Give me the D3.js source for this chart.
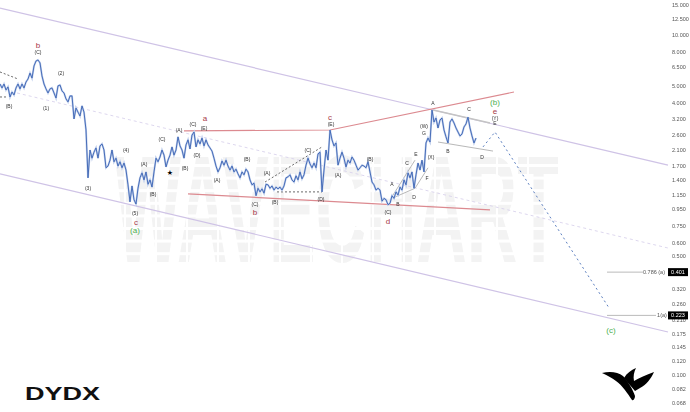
<!DOCTYPE html>
<html>
<head>
<meta charset="utf-8">
<title>DYDX</title>
<script src="https://cdn.jsdelivr.net/npm/d3@7"></script>
<style>
    html, body { margin: 0; padding: 0; background: #fff; overflow: hidden; }
    svg { display: block; font-family: "Liberation Sans", sans-serif; }
</style>
</head>
<body>
<div id="chart"></div>
<script>
// one close per bar
const closes = [
    5.14,4.87,5.14,4.74,4.94,4.31,4.61,4.43,4.87,5.14,4.81,5.14,4.87,5.28,5.50,5.96,5.57,6.56,7.02,7.12,
    6.84,5.73,5.14,4.81,4.55,4.81,4.87,4.55,4.25,5.01,5.07,4.68,4.55,4.20,4.03,4.37,4.37,3.20,3.71,3.51,
    3.33,3.82,3.51,2.755,1.44,2.10,1.88,2.04,2.16,1.88,2.22,2.28,2.10,1.65,1.69,1.83,2.10,1.79,1.88,1.69,
    1.79,1.65,1.76,1.60,1.31,1.04,1.29,1.07,1.01,1.25,1.44,1.54,1.40,1.56,1.32,1.40,1.27,1.56,1.88,1.79,
    1.91,2.10,1.96,1.67,1.83,1.96,2.19,1.96,2.10,2.51,2.22,2.10,1.88,2.25,2.41,2.13,2.57,2.68,2.19,2.41,
    2.28,2.47,2.22,2.41,2.25,2.16,2.07,1.88,1.69,1.56,1.65,1.81,1.71,1.83,1.69,1.60,1.69,1.56,1.62,1.52,
    1.44,1.56,1.50,1.62,1.56,1.40,1.31,1.34,1.13,1.25,1.19,1.24,1.17,1.32,1.31,1.25,1.29,1.22,1.27,1.24,
    1.27,1.22,1.29,1.44,1.46,1.50,1.40,1.36,1.48,1.40,1.56,1.42,1.50,1.71,1.88,1.74,1.65,1.76,1.65,1.99,
    2.04,1.19,1.60,2.10,1.83,2.755,2.41,2.22,2.31,1.71,1.88,2.04,1.88,1.67,1.83,1.76,1.91,1.83,1.71,1.60,
    1.65,1.71,1.69,1.65,1.79,1.56,1.36,1.31,1.22,1.25,1.22,1.05,1.09,1.07,1.00,1.02,1.13,1.09,1.19,1.14,
    1.27,1.22,1.40,1.31,1.54,1.44,1.56,1.25,1.50,1.76,1.60,1.83,1.56,2.31,2.47,2.34,3.61,3.07,3.24,2.83,
    3.155,3.24,2.755,2.51,2.31,3.07,3.20,3.03,2.83,2.68,2.54,2.61,2.87,2.99,3.28,2.83,2.54,2.31,2.47
];

const priceTicks = [15,12.5,10,8,6.5,5,4,3.2,2.6,2.1,1.7,1.4,1.15,0.95,0.75,0.6,0.5,0.4,0.32,0.26,0.21,0.175,0.145,0.12,0.1,0.082,0.068];

// trend lines as [[bar, price], [bar, price]]
const channelLines = [
    [[0, 14.4], [334, 1.71]],
    [[0, 1.52], [334, 0.178]]
];
const channelMid = [[8.5, 4.55], [334, 0.556]];
const redLines = [
    [[92, 2.72], [165, 2.755], [257, 4.61]],
    [[94, 1.16], [245, 0.932]]
];
const blackDashes = [
    [[0, 6.05], [9, 5.50]],
    [[0, 4.31], [4, 4.31]],
    [[132.5, 1.36], [161, 2.19]],
    [[138.5, 1.19], [161, 1.19]]
];
const grayLines = [
    [[196.5, 1.14], [207.5, 1.83]],
    [[197.5, 1.11], [207.5, 1.25], [214, 1.65]],
    [[219, 2.34], [246.5, 2.07]]
];
const grayThick = [[216.5, 3.61], [245, 3.03]];
const projection = [[241.5, 2.19], [247.5, 2.68], [304.5, 0.247]];

const fibLevels = [
    {name: '0.786 (a)', price: 0.401, bar0: 303.5, bar1: 321.5, nameBar: 327},
    {name: '1(a)', price: 0.223, bar0: 303.5, bar1: 328, nameBar: 331}
];

const waveLabels = [
    [19,7.93,'(C)'],[30.5,5.96,'(2)'],[4.5,3.82,'(B)'],[23,3.71,'(1)'],[44,1.25,'(3)'],[63,2.10,'(4)'],
    [72,1.74,'(A)'],[76.5,1.16,'(B)'],[67.5,0.895,'(5)'],[81,2.44,'(C)'],[89.5,2.755,'(A)'],[96.5,2.99,'(C)'],
    [102,2.83,'(E)'],[98.5,1.96,'(D)'],[92.5,1.65,'(B)'],[108.5,1.40,'(A)'],[123.5,1.86,'(B)'],[133.5,1.54,'(A)'],
    [154,2.10,'(C)'],[165.5,2.99,'(E)'],[169,1.50,'(A)'],[185,1.86,'(B)'],[127.5,1.00,'(C)'],[137.5,1.04,'(B)'],
    [160.5,1.07,'(D)'],[194,0.907,'(C)'],[196,1.32,'A'],[199,1.00,'B'],[203.5,1.76,'C'],[208,1.99,'E'],
    [207,1.11,'D'],[213.5,1.44,'F'],[215.5,1.91,'(X)'],[212,2.65,'G'],[212,2.91,'(W)'],[216.5,3.98,'A'],
    [224,2.07,'B'],[234.5,3.66,'C'],[241,1.91,'D'],[247.5,3.03,'E'],[247.5,3.24,'(Y)']
];
const starLabels = [[85, 1.54]];
const degreeLabels = [
    [19,8.72,'b'],[68,0.792,'c'],[102.5,3.24,'a'],[127.5,0.907,'b'],[165,3.28,'c'],[194,0.803,'d'],[247.5,3.56,'e']
];
const cycleLabels = [[67.5,0.711,'(a)'],[247.5,4.0,'(b)'],[305.5,0.183,'(c)']];

const width = 690, height = 412;

const x = d3.scaleLinear().domain([0, 345]).range([0, 690]);
const y = d3.scaleLog().domain([15, 0.068]).range([5, 403]);

const svg = d3.select('#chart').append('svg')
    .attr('width', width)
    .attr('height', height);

const line = d3.line().x(d => x(d[0])).y(d => y(d[1]));

// watermark first so everything sits on top of it
const mark = svg.append('g');
const markText = mark.append('text')
    .style('font-size', '152px')
    .style('font-weight', 'bold')
    .style('fill', '#f3f3f3')
    .text('WAVECHART');
// squeeze it with a transform so it stays inside the page
markText.attr('transform', `translate(115,262) scale(${445 / markText.node().getComputedTextLength()},1)`);
mark.selectAll('rect.row')
    .data(d3.range(164, 264, 12.6))
    .enter().append('rect').attr('class', 'row')
    .attr('x', 100).attr('width', 480)
    .attr('y', d => d).attr('height', 3)
    .style('fill', '#fff');
mark.selectAll('rect.col')
    .data(d3.range(124, 560, 31))
    .enter().append('rect').attr('class', 'col')
    .attr('x', d => d).attr('width', 2)
    .attr('y', 150).attr('height', 120)
    .style('fill', '#fff');

function drawLines(data, stroke, w, dash) {
    svg.append('g').selectAll('path')
        .data(data)
        .enter().append('path')
        .attr('d', line)
        .style('fill', 'none')
        .style('stroke', stroke)
        .style('stroke-width', w)
        .style('stroke-dasharray', dash || null);
}

drawLines(channelLines, '#cfc3e6', 1.2);
drawLines([channelMid], '#d9d3ec', 0.9, '3,3');
drawLines(redLines, '#dc8a90', 1.2);
drawLines(blackDashes, '#444', 0.8, '2,2');
drawLines(grayLines, '#9a9a9a', 0.7);
drawLines([grayThick], '#c4c4c4', 1.5);
drawLines([projection], '#5c7fc0', 1, '2,3');

// pale stroke under the price line, the reference is soft around it
const priceData = closes.map((c, i) => [i, c]);
drawLines([priceData], '#c0cfec', 2);
drawLines([priceData], '#3a62b2', 0.9);

// right price axis
const axis = svg.append('g')
    .attr('transform', 'translate(672,0)')
    .style('filter', 'grayscale(1)')
    .call(d3.axisRight(y).tickValues(priceTicks).tickSize(0).tickPadding(0).tickFormat(d3.format('.3f')));
axis.select('.domain').remove();
axis.selectAll('text').style('font-size', '5.5px').style('fill', '#555').style('font-family', '"Liberation Sans", sans-serif');

// fib levels
const fib = svg.append('g').style('filter', 'grayscale(1)').selectAll('g').data(fibLevels).enter().append('g');
fib.append('line')
    .attr('x1', d => x(d.bar0)).attr('x2', d => x(d.bar1))
    .attr('y1', d => y(d.price)).attr('y2', d => y(d.price))
    .style('stroke', '#aaa').style('stroke-width', 0.8);
fib.append('text')
    .attr('x', d => x(d.nameBar)).attr('y', d => y(d.price))
    .attr('text-anchor', 'middle').attr('dy', '0.35em')
    .style('font-size', '5.5px').style('fill', '#555')
    .text(d => d.name);
fib.append('rect')
    .attr('x', 668).attr('width', 20)
    .attr('y', d => y(d.price) - 4).attr('height', 8)
    .style('fill', '#000');
fib.append('text')
    .attr('x', 678).attr('y', d => y(d.price))
    .attr('text-anchor', 'middle').attr('dy', '0.35em')
    .style('font-size', '5.5px').style('fill', '#fff')
    .text(d => d.price.toFixed(3));

function drawLabels(data, size, color, flat) {
    svg.append('g')
        .style('filter', flat ? 'grayscale(1)' : null)
        .selectAll('text')
        .data(data)
        .enter().append('text')
        .attr('x', d => x(d[0])).attr('y', d => y(d[1]))
        .attr('text-anchor', 'middle').attr('dy', '0.35em')
        .style('font-size', size + 'px')
        .style('fill', color)
        .text(d => d[2]);
}

drawLabels(waveLabels, 5, '#333', true);
drawLabels(degreeLabels, 8, '#a83a48');
drawLabels(cycleLabels, 8, '#4caf50');

svg.append('g').selectAll('text')
    .data(starLabels)
    .enter().append('text')
    .attr('x', d => x(d[0])).attr('y', d => y(d[1]))
    .attr('text-anchor', 'middle').attr('dy', '0.35em')
    .style('font-family', '"DejaVu Sans"')
    .style('font-size', '7px')
    .text('★');

// ticker and logo
svg.append('text')
    .attr('x', 25).attr('y', 400)
    .attr('textLength', 75)
    .attr('lengthAdjust', 'spacingAndGlyphs')
    .style('font-size', '18px')
    .style('font-weight', 'bold')
    .style('fill', '#111')
    .text('DYDX');

const logo = svg.append('g').style('fill', '#000');
logo.append('path').attr('d', 'M602,373 C610,371 618,372 623,376 C628,381 633,390 635,396 C635,399 633,401 632,400 C628,394 622,385 616,381 C612,378 607,375 602,373Z');
logo.append('path').attr('d', 'M624,378 C627,373 631,370 636,368 C634,372 633,376 634,381 C639,378 646,375 654,372 C651,379 646,385 640,388 L635,391 C631,386 627,382 624,378Z');
</script>
</body>
</html>
